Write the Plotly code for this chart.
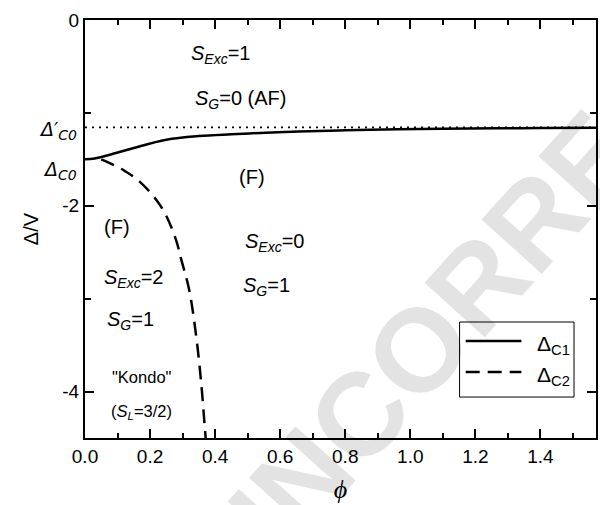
import math
import plotly.graph_objects as go

# ---- data ----
phi_c1 = [0.0, 0.03, 0.076, 0.147, 0.25, 0.35, 0.45, 0.556, 0.657, 0.8, 0.963, 1.1, 1.27, 1.4, 1.5708]
delta_c1 = [-1.50, -1.49, -1.45, -1.38, -1.29, -1.25, -1.23, -1.213, -1.20, -1.188, -1.177, -1.171, -1.166, -1.163, -1.16]

phi_c2 = [0.05, 0.076, 0.12, 0.168, 0.22, 0.25, 0.28, 0.296, 0.32, 0.342, 0.357, 0.367, 0.371]
delta_c2 = [-1.50, -1.54, -1.62, -1.74, -1.94, -2.11, -2.37, -2.58, -2.90, -3.41, -3.90, -4.33, -4.5]

phi_range = [0.0, math.pi / 2]
delta_c0_prime = -1.155

x_ticks = [0.0, 0.2, 0.4, 0.6, 0.8, 1.0, 1.2, 1.4]
x_tick_labels = ["0.0", "0.2", "0.4", "0.6", "0.8", "1.0", "1.2", "1.4"]
y_ticks = [0, -2, -4]
y_tick_labels = ["0", "-2", "-4"]

legend_names = ["Δ<sub>C1</sub>", "Δ<sub>C2</sub>"]

FONT = "Liberation Sans, Arial, sans-serif"
SOLID = dict(color="black", width=2.5)
DASHED = dict(color="black", width=2.5, dash="14px,8px")

fig = go.Figure()

fig.add_trace(go.Scatter(
    x=phi_range, y=[delta_c0_prime, delta_c0_prime], mode="lines",
    line=dict(color="black", width=1.8, dash="2px,5px"), showlegend=False, hoverinfo="skip"))

fig.add_trace(go.Scatter(
    x=phi_c1, y=delta_c1, mode="lines", name=legend_names[0], showlegend=False,
    line=dict(**SOLID, shape="spline")))

fig.add_trace(go.Scatter(
    x=phi_c2, y=delta_c2, mode="lines", name=legend_names[1], showlegend=False,
    line=dict(**DASHED, shape="spline")))

annotations = []

# watermark
annotations.append(dict(
    text="<b>UNCORRECTED PROOF</b>", xref="paper", yref="paper",
    x=(677 - 85) / 513, y=(438 - 65) / 418, xanchor="center", yanchor="middle",
    textangle=-48, showarrow=False,
    font=dict(family=FONT, size=118, color="rgba(0,0,0,0.11)")))

def add(text, x, y, size=20, xanchor="left", family=FONT, ref="x"):
    annotations.append(dict(text=text, x=x, y=y,
                            xref="x" if ref == "x" else "paper",
                            yref="y" if ref == "x" else "paper",
                            showarrow=False, xanchor=xanchor, yanchor="middle",
                            font=dict(family=family, size=size, color="black")))

add("<i>S</i><sub><i>Exc</i></sub>=1", 0.321, -0.37)
add("<i>S</i><sub><i>G</i></sub>=0 (AF)", 0.333, -0.86)
add("(F)", 0.514, -1.69, xanchor="center")
add("(F)", 0.099, -2.23, xanchor="center")
add("<i>S</i><sub><i>Exc</i></sub>=0", 0.486, -2.39)
add("<i>S</i><sub><i>G</i></sub>=1", 0.48, -2.87)
add("<i>S</i><sub><i>Exc</i></sub>=2", 0.052, -2.78)
add("<i>S</i><sub><i>G</i></sub>=1", 0.061, -3.23)
add("\"Kondo\"", 0.175, -3.84, size=16.5, xanchor="center")
add("(<i>S</i><sub><i>L</i></sub>=3/2)", 0.175, -4.22, size=16.5, xanchor="center")
add("<i>Δ′</i><sub><i><span style='font-size:14px'>C0</span></i></sub>", -0.012, 0.735, size=19,
    xanchor="right", family="DejaVu Sans, sans-serif", ref="paper")
add("<i>Δ</i><sub><i><span style='font-size:14px'>C0</span></i></sub>", -0.012, 0.641, size=19,
    xanchor="right", family="DejaVu Sans, sans-serif", ref="paper")

# legend (drawn manually to match the long line samples)
shapes = [dict(type="rect", xref="paper", yref="paper", x0=0.733, x1=0.957, y0=0.098, y1=0.2775,
               line=dict(color="black", width=1), fillcolor="rgba(0,0,0,0)")]
leg_rows = [0.232, 0.158]
for row_y, style, name in zip(leg_rows, [SOLID, DASHED], legend_names):
    shapes.append(dict(type="line", xref="paper", yref="paper", x0=0.745, x1=0.854, y0=row_y, y1=row_y,
                       line=style))
    annotations.append(dict(text=name, xref="paper", yref="paper", x=0.881, y=row_y - 0.01,
                            xanchor="left", yanchor="middle", showarrow=False,
                            font=dict(family=FONT, size=21, color="black")))

axis_common = dict(
    showline=True, linecolor="black", linewidth=2, mirror="ticks",
    ticks="inside", ticklen=9, tickwidth=2, tickcolor="black",
    showgrid=False, zeroline=False,
    tickfont=dict(family=FONT, size=19, color="black"),
)

fig.update_layout(
    width=600, height=505,
    margin=dict(l=85, r=2, t=20, b=67),
    paper_bgcolor="white", plot_bgcolor="white",
    annotations=annotations,
    shapes=shapes,
    showlegend=False,
    xaxis=dict(range=phi_range, tickvals=x_ticks, ticktext=x_tick_labels,
               minor=dict(ticks="inside", ticklen=5, tickwidth=2, tickcolor="black", dtick=0.1, tick0=0),
               title=dict(text="<i>ϕ</i>", font=dict(family="Liberation Serif, serif", size=26, color="black"), standoff=14),
               **axis_common),
    yaxis=dict(range=[-4.5, 0], tickvals=y_ticks, ticktext=y_tick_labels,
               minor=dict(ticks="inside", ticklen=6, tickwidth=2, tickcolor="black", dtick=1, tick0=0),
               title=dict(text="Δ/V", font=dict(family=FONT, size=20, color="black"), standoff=18),
               **axis_common),
)

fig.write_html("out.html")
